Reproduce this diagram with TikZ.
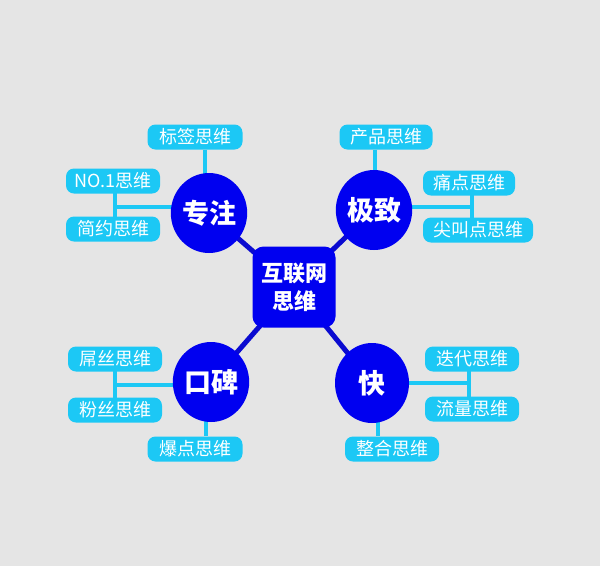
\documentclass[tikz,border=0pt]{standalone}
\usepackage{fontspec}
\setmainfont{Noto Sans CJK SC}
\usetikzlibrary{shapes.geometric,backgrounds}
\definecolor{bgc}{HTML}{E5E5E5}
\definecolor{mblue}{HTML}{0000F0}
\definecolor{sblue}{HTML}{0A0AD0}
\definecolor{mcyan}{HTML}{1CC8F5}
\tikzset{
  pill/.style={fill=mcyan, rounded corners=8pt, minimum height=25pt, inner sep=0pt, text=white, font=\fontsize{18}{18}\selectfont},
  hub/.style={ellipse, fill=mblue, minimum width=74pt, minimum height=80pt, inner sep=0pt, text=white, font=\fontsize{27}{27}\selectfont\bfseries},
  core/.style={fill=mblue, rounded corners=11pt, minimum width=83pt, minimum height=81pt, inner sep=0pt, text=white, align=center, font=\fontsize{22}{28}\selectfont\bfseries},
  spoke/.style={draw=sblue, line width=5pt},
  link/.style={draw=mcyan, line width=3.5pt}
}
\begin{document}
\begin{tikzpicture}[x=1pt,y=-1pt]
\useasboundingbox (0,0) rectangle (600,566);
% core and hubs
\node[core] (c) at (294,287) {互联网\\思维};
\node[hub] (zz) at (209,213) {专注};
\node[hub] (jz) at (374,210) {极致};
\node[hub] (kb) at (211,382) {口碑};
\node[hub] (k)  at (372,383) {快};
% pills
\node[pill, minimum width=95pt] (bq) at (195,137) {标签思维};
\node[pill, minimum width=94pt] (no) at (113,181) {NO.1思维};
\node[pill, minimum width=94pt] (jy) at (113,229) {简约思维};
\node[pill, minimum width=93pt] (cp) at (386,137) {产品思维};
\node[pill, minimum width=92pt] (td) at (469,183) {痛点思维};
\node[pill, minimum width=110pt] (jj) at (478,230) {尖叫点思维};
\node[pill, minimum width=94pt] (ds) at (115,359) {屌丝思维};
\node[pill, minimum width=94pt] (fs) at (115,410) {粉丝思维};
\node[pill, minimum width=95pt] (bd) at (195,449) {爆点思维};
\node[pill, minimum width=94pt] (dd) at (472,359) {迭代思维};
\node[pill, minimum width=94pt] (ll) at (472,409) {流量思维};
\node[pill, minimum width=94pt] (zh) at (392,449) {整合思维};
% junction coordinates
\coordinate (a1) at (205,0);
\coordinate (a2) at (115,207);
\coordinate (b1) at (375,0);
\coordinate (b2) at (472,207);
\coordinate (c1) at (115,385);
\coordinate (c2) at (206,0);
\coordinate (d1) at (469,383);
\coordinate (d2) at (378,0);
\begin{pgfonlayer}{background}
\fill[bgc] (0,0) rectangle (600,566);
\draw[spoke] (zz.center) -- (c.center);
\draw[spoke] (jz.center) -- (c.center);
\draw[spoke] (kb.center) -- (c.center);
\draw[spoke] (k.center) -- (c.center);
% 专注
\draw[link] (bq.south -| a1) -- (zz.center -| a1);
\draw[link] (no.center -| a2) -- (jy.center -| a2);
\draw[link] (a2) -- (a2 -| zz.center);
% 极致
\draw[link] (cp.south -| b1) -- (jz.center -| b1);
\draw[link] (td.center -| b2) -- (jj.center -| b2);
\draw[link] (b2) -- (b2 -| jz.center);
% 口碑
\draw[link] (ds.center -| c1) -- (fs.center -| c1);
\draw[link] (c1) -- (c1 -| kb.center);
\draw[link] (kb.center -| c2) -- (bd.north -| c2);
% 快
\draw[link] (dd.center -| d1) -- (ll.center -| d1);
\draw[link] (d1) -- (d1 -| k.center);
\draw[link] (k.center -| d2) -- (zh.north -| d2);
\end{pgfonlayer}
\end{tikzpicture}
\end{document}
